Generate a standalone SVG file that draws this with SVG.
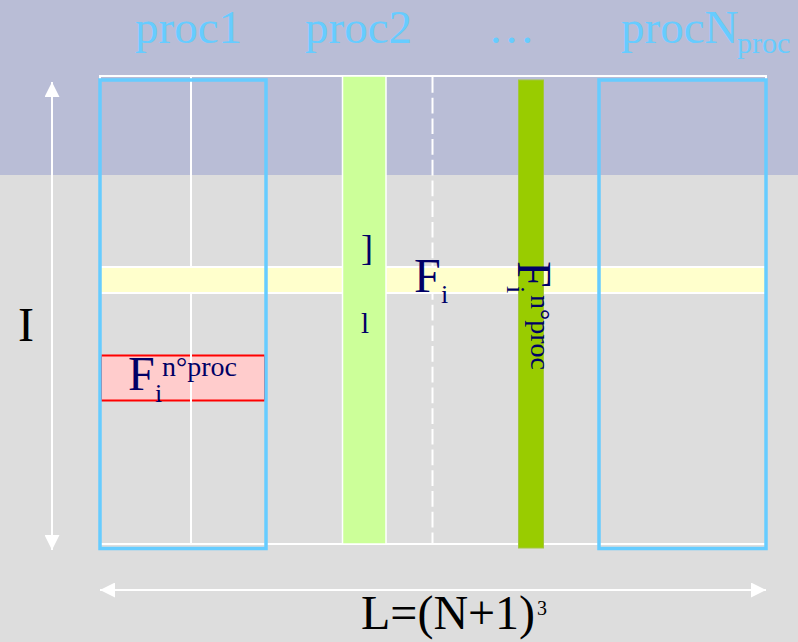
<svg xmlns="http://www.w3.org/2000/svg" width="798" height="642" viewBox="0 0 798 642">
  <style>
    .serif { font-family: "Liberation Serif", "Times New Roman", serif; }
    .head { fill: #66CCFF; font-size: 47px; }
    .math { fill: #000066; }
    .proc { fill: none; stroke: #66CCFF; stroke-width: 3.5; }
    .dim { stroke: #FFFFFF; stroke-width: 2; fill: none; }
  </style>
  <defs>
    <marker id="tip" viewBox="0 0 15 15" refX="15" refY="7.5" markerWidth="15" markerHeight="15" markerUnits="userSpaceOnUse" orient="auto-start-reverse">
      <path d="M0,0 L15,7.5 L0,15 Z" fill="#FFFFFF"/>
    </marker>
  </defs>

  <!-- background: header band and work area -->
  <rect x="0" y="0" width="798" height="175" fill="#B9BDD6"/>
  <rect x="0" y="175" width="798" height="467" fill="#DDDDDD"/>

  <!-- processor headings -->
  <g id="headings" class="serif head">
    <text x="135" y="43">proc1</text>
    <text x="305" y="43">proc2</text>
    <text x="488" y="43">…</text>
    <text x="621" y="43">procN<tspan x="737" y="53" font-size="30">proc</tspan></text>
  </g>

  <!-- matrix outline -->
  <rect id="matrix" x="100" y="76" width="666" height="468" fill="none" stroke="#FFFFFF" stroke-width="2"/>

  <!-- internal column split and dashed column j -->
  <g id="grid">
    <rect x="101" y="355.5" width="164" height="45" fill="#FFCCCC" stroke="#FF0000" stroke-width="2"/>
    <line x1="191" y1="77" x2="191" y2="543" stroke="#FFFFFF" stroke-width="2"/>
    <line x1="432.5" y1="77" x2="432.5" y2="543" stroke="#FFFFFF" stroke-width="2" stroke-dasharray="15.7 5"/>
  </g>

  <!-- row i -->
  <rect id="row-i" x="100" y="267" width="666" height="26" fill="#FFFFCC" stroke="#FFFFFF" stroke-width="2"/>

  <!-- columns -->
  <rect id="col-light" x="342.5" y="76" width="43.5" height="468" fill="#CCFF99" stroke="#FFFFFF" stroke-width="1.5"/>
  <rect id="col-dark" x="518.5" y="80" width="25" height="468" fill="#99CC00" stroke="#A3C640" stroke-width="1"/>

  <!-- processor blocks -->
  <g id="proc1"><rect class="proc" x="100" y="80" width="166" height="468.5"/></g>
  <g id="procN"><rect class="proc" x="599" y="80" width="167" height="468.5"/></g>

  <!-- dimension arrows -->
  <g id="connectors">
    <line class="dim" x1="52" y1="82" x2="52" y2="550" marker-start="url(#tip)" marker-end="url(#tip)"/>
    <line class="dim" x1="100" y1="590" x2="766" y2="590" marker-start="url(#tip)" marker-end="url(#tip)"/>
  </g>

  <!-- labels -->
  <g id="labels" class="serif">
    <text x="18" y="341" font-size="48" fill="#000000">I</text>
    <text x="361" y="629" font-size="48" fill="#000000">L=(N+1)<tspan x="537" y="615" font-size="20">3</tspan></text>

    <text class="math" x="361" y="260" font-size="36">]</text>
    <text class="math" x="361" y="333" font-size="29">l</text>

    <text class="math" x="414" y="292" font-size="48">F<tspan x="441" y="303" font-size="26">i</tspan></text>

    <text class="math" x="128" y="390" font-size="48">F<tspan x="155" y="402" font-size="26">i</tspan><tspan x="162" y="376" font-size="28">n°proc</tspan></text>

    <g transform="translate(518,261) rotate(90)">
      <text class="math" x="0" y="0" font-size="48">F<tspan x="25" y="11" font-size="26">i</tspan><tspan x="34" y="-13" font-size="28">n°proc</tspan></text>
    </g>
  </g>
</svg>
